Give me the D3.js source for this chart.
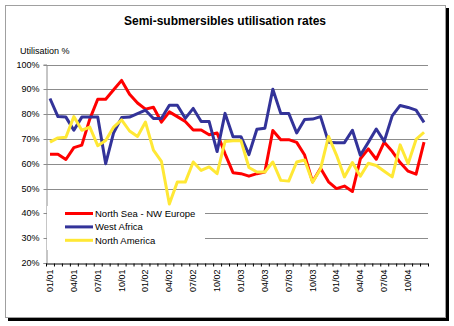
<!DOCTYPE html>
<html>
<head>
<meta charset="utf-8">
<script src="https://cdn.jsdelivr.net/npm/d3@7"></script>
<style>
  body { margin: 0; background: #fff; }
  svg text { font-family: "Liberation Sans", Arial, sans-serif; fill: #000; }
</style>
</head>
<body>
<svg id="chart"></svg>
<script>
var width = 454;
var height = 326;

// monthly categories, 01/01 .. 12/04
var months = ["01/01","02/01","03/01","04/01","05/01","06/01","07/01","08/01","09/01","10/01","11/01","12/01",
              "01/02","02/02","03/02","04/02","05/02","06/02","07/02","08/02","09/02","10/02","11/02","12/02",
              "01/03","02/03","03/03","04/03","05/03","06/03","07/03","08/03","09/03","10/03","11/03","12/03",
              "01/04","02/04","03/04","04/04","05/04","06/04","07/04","08/04","09/04","10/04","11/04","12/04"];

var northSea = [63.8, 63.8, 61.7, 66.5, 67.5, 78, 86, 86, 89.8, 93.6,
                88, 84.5, 82, 82.8, 76.8, 80.9, 79, 77, 73.6, 73.6,
                71.7, 72.4, 64, 56.4, 56, 55, 56, 56.7, 73.4, 69.7,
                69.7, 68.6, 63.5, 52.7, 58.2, 52.7, 50, 51, 48.8, 62,
                66, 61.8, 68.7, 65, 60.5, 57, 55.8, 68.7];

var westAfrica = [86.3, 79, 78.8, 73.5, 78.8, 78.8, 78.8, 60, 72.5, 78.6,
                  78.8, 80.2, 81.6, 78.2, 78.2, 83.6, 83.6, 78.3, 82.3, 77,
                  77, 64.9, 80.3, 70.9, 70.9, 63.7, 73.9, 74.3, 90, 80.3,
                  80.3, 72.4, 77.8, 78, 79, 68.7, 68.5, 68.5, 73.5, 63.4,
                  68.6, 74, 69, 79.3, 83.5, 82.7, 81.6, 76.7];

var northAmerica = [68.7, 70.4, 70.7, 79, 73.5, 74.8, 67.3, 69.4, 74.8, 77.7,
                    73.2, 71, 76.8, 65.5, 61, 43.8, 52.6, 52.6, 60.7, 57.3,
                    58.7, 56, 69, 69.3, 69.3, 58.5, 56.7, 56.7, 60.7, 53.3,
                    53, 60.7, 61.5, 52.5, 58, 71, 63.5, 54.7, 60.5, 55,
                    60.2, 59.3, 57, 54.7, 67.6, 60, 69.8, 72.7];

var seriesNames = ["North Sea - NW Europe", "West Africa", "North America"];
var yTicks = [20, 30, 40, 50, 60, 70, 80, 90, 100];

var colors = ["#ff0000", "#333399", "#ffe835"];
var series = [northSea, westAfrica, northAmerica];

var svg = d3.select("#chart")
    .attr("width", width)
    .attr("height", height);

// frame + shadow
svg.append("rect")
    .attr("x", 8).attr("y", 8)
    .attr("width", 441).attr("height", 313)
    .style("fill", "#000");
svg.append("rect")
    .attr("x", 5.5).attr("y", 5.5)
    .attr("width", 440).attr("height", 312)
    .style("fill", "#fff")
    .style("stroke", "#a0a0a0");

var x = d3.scaleBand()
    .domain(months)
    .range([46, 428]);

var xi = d3.scaleLinear()
    .domain([0, months.length])
    .range([46, 428]);

var y = d3.scaleLinear()
    .domain([20, 100])
    .range([263, 64.5]);

// title
svg.append("text")
    .attr("x", 225)
    .attr("y", 25)
    .style("text-anchor", "middle")
    .style("font-weight", "bold")
    .style("font-size", "12px")
    .text("Semi-submersibles utilisation rates");

svg.append("text")
    .attr("x", 20)
    .attr("y", 54)
    .style("font-size", "9px")
    .text("Utilisation %");

// gridlines
svg.append("g")
    .selectAll("line")
    .data(yTicks.slice(1))
    .enter().append("line")
    .attr("x1", 46).attr("x2", 428)
    .attr("y1", function(d) { return Math.round(y(d)) + 0.5; })
    .attr("y2", function(d) { return Math.round(y(d)) + 0.5; })
    .style("stroke", "#8c8c8c");

// y axis
var yAxis = d3.axisLeft(y)
    .tickValues(yTicks)
    .tickSize(3)
    .tickPadding(4)
    .tickFormat(function(d) { return d + "%"; });

var gy = svg.append("g")
    .attr("transform", "translate(46.5,0)")
    .call(yAxis);
gy.select(".domain").style("stroke", "#8c8c8c");
gy.selectAll(".tick line").style("stroke", "#8c8c8c")
    .attr("transform", function() { return "translate(0,0)"; });
gy.selectAll(".tick").attr("transform", function(d) { return "translate(0," + (Math.round(y(d)) + 0.5) + ")"; });
gy.selectAll(".tick text").style("font-size", "9px").style("font-family", "'Liberation Sans', Arial, sans-serif");

// x axis: ticks between categories
var xAxis = d3.axisBottom(xi)
    .tickValues(d3.range(months.length + 1))
    .tickSize(3)
    .tickSizeOuter(0)
    .tickFormat("");

var gx = svg.append("g")
    .attr("transform", "translate(0," + (Math.round(y(20)) + 0.5) + ")")
    .call(xAxis);
gx.select(".domain").style("stroke", "#000");
gx.selectAll(".tick line").style("stroke", "#000");

gx.selectAll(".mlabel")
    .data(months.filter(function(d, i) { return i % 3 == 0; }))
    .enter().append("text")
    .attr("class", "mlabel")
    .attr("transform", function(d) {
        return "translate(" + (x(d) + x.bandwidth() / 2 + 3) + ",6) rotate(-90)";
    })
    .style("text-anchor", "end")
    .style("font-size", "9px")
    .text(function(d) { return d; });

// series lines
var line = d3.line()
    .x(function(d, i) { return x(months[i]) + x.bandwidth() / 2; })
    .y(function(d) { return y(d); });

for (var s = 0; s < series.length; s++) {
    svg.append("path")
        .datum(series[s])
        .attr("d", line)
        .style("fill", "none")
        .style("stroke", colors[s])
        .style("stroke-width", 3)
        .style("stroke-linejoin", "round");
}

// legend
var legend = svg.append("g");
legend.append("rect")
    .attr("x", 47).attr("y", 206)
    .attr("width", 158).attr("height", 44)
    .style("fill", "#fff");

for (var k = 0; k < seriesNames.length; k++) {
    var ly = 213.5 + k * 13.4;
    legend.append("line")
        .attr("x1", 65).attr("x2", 93)
        .attr("y1", ly).attr("y2", ly)
        .style("stroke", colors[k])
        .style("stroke-width", 3);
    legend.append("text")
        .attr("x", 95)
        .attr("y", ly + 3.5)
        .style("font-size", "9.5px")
        .text(seriesNames[k]);
}
</script>
</body>
</html>
